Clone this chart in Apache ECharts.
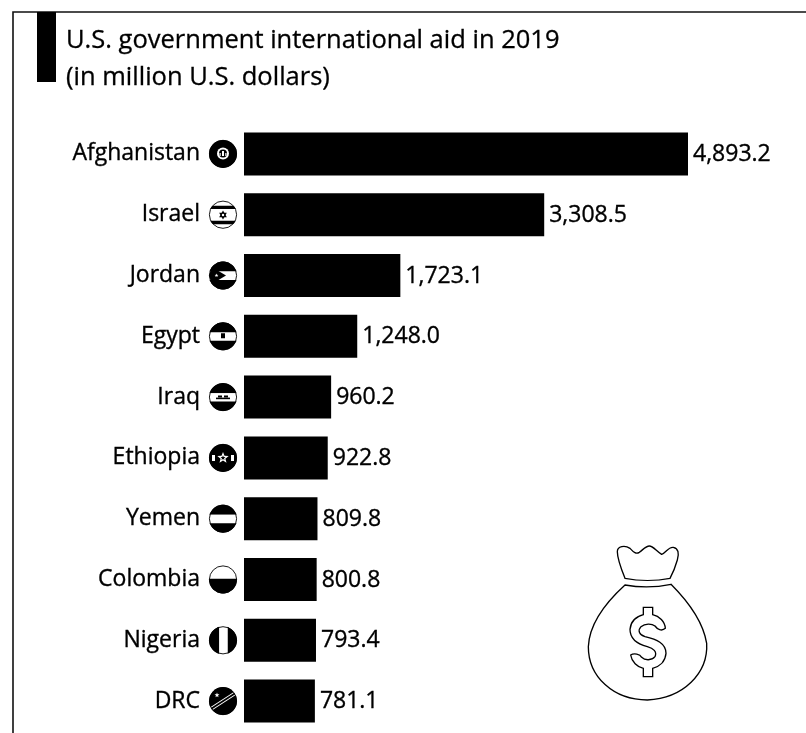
<!DOCTYPE html>
<html>
<head>
<meta charset="utf-8">
<style>html,body{margin:0;padding:0;background:#fff}#c{width:806px;height:733px}</style>
<script src="https://cdn.jsdelivr.net/npm/echarts@6/dist/echarts.min.js"></script>
</head>
<body>
<div id="c"></div>
<script>
// U.S. government international aid, top ten recipients
const countries = ['Afghanistan','Israel','Jordan','Egypt','Iraq','Ethiopia','Yemen','Colombia','Nigeria','DRC'];
const aidMillions = [4893.2,3308.5,1723.1,1248.0,960.2,922.8,809.8,800.8,793.4,781.1];
const titleLines = ['U.S. government international aid in 2019','(in million U.S. dollars)'];

const K = '#000', W = '#fff';
const FONT = '"Open Sans", "Noto Sans", sans-serif';

// Money bag outlines in a 3x drawing space, registered so the graphic component can place them by name
const bagPaths = {
  bagNeck: 'M195 175 C185 150 172 115 172 95 C172 78 195 75 210 85 C222 98 228 103 238 97 C250 88 258 78 268 78 C280 78 290 95 305 103 C318 98 325 80 340 82 C355 85 358 100 352 120 C345 145 338 160 330 175 C290 183 235 183 195 175 Z',
  bagBody: 'M195 195 C235 202 290 202 333 193 C385 245 430 310 440 370 C445 460 370 535 262 540 C160 540 85 470 85 380 C88 310 140 245 195 195 Z',
  bagDollar: 'M250 262 L278 262 L278 284 C298 288 315 305 316 325 C305 335 292 328 285 318 C275 310 255 310 243 320 C232 332 238 345 255 350 C290 358 318 370 318 400 C316 425 298 440 278 445 L278 470 L250 470 L250 445 C232 442 215 425 212 405 C222 398 240 402 245 412 C255 422 275 422 285 410 C292 395 280 385 262 380 C230 372 210 355 210 328 C212 305 228 290 250 284 Z'
};
Object.keys(bagPaths).forEach(name => {
  echarts.graphic.registerShape(name, echarts.graphic.extendPath(bagPaths[name]));
});

// Flag badges drawn inside a circle of radius r around (cx, cy)
function stripes(bands) {
  return (cx, cy, r) => bands.map(([from, to, fill]) => ({
    type: 'rect',
    shape: { x: cx - r, y: cy - r + from * 2 * r, width: 2 * r, height: (to - from) * 2 * r },
    style: { fill }
  }));
}
function star(cx, cy, s, fill) {
  const points = [];
  for (let i = 0; i < 10; i++) {
    const a = -Math.PI / 2 + i * Math.PI / 5, q = i % 2 ? s * 0.42 : s;
    points.push([cx + q * Math.cos(a), cy + q * Math.sin(a)]);
  }
  return { type: 'polygon', shape: { points }, style: { fill } };
}
function triangle(cx, cy, s, up, fill) {
  const d = up ? 1 : -1;
  return { type: 'polygon', shape: { points: [[cx, cy - d * s], [cx + s * 0.87, cy + d * s * 0.5], [cx - s * 0.87, cy + d * s * 0.5]] }, style: { fill } };
}
const threeBands = stripes([[0, 0.36, K], [0.36, 0.66, W], [0.66, 1, K]]);
const flagArt = {
  Afghanistan: (cx, cy, r) => [
    { type: 'circle', shape: { cx, cy, r }, style: { fill: K } },
    { type: 'circle', shape: { cx, cy: cy - 0.5, r: 6 }, style: { fill: W } },
    { type: 'circle', shape: { cx, cy: cy - 0.5, r: 4 }, style: { fill: K } },
    { type: 'rect', shape: { x: cx - 1, y: cy - 3, width: 2, height: 5 }, style: { fill: W } },
    { type: 'rect', shape: { x: cx - 3.5, y: cy - 1, width: 1.2, height: 3 }, style: { fill: W } },
    { type: 'rect', shape: { x: cx + 2.3, y: cy - 1, width: 1.2, height: 3 }, style: { fill: W } }
  ],
  Israel: (cx, cy, r) => [
    ...stripes([[0.18, 0.3, K], [0.72, 0.84, K]])(cx, cy, r),
    triangle(cx, cy + 0.3, 4.4, true, K),
    triangle(cx, cy + 0.3, 4.4, false, K),
    { type: 'circle', shape: { cx, cy: cy + 0.3, r: 1.2 }, style: { fill: W } }
  ],
  Jordan: (cx, cy, r) => [
    ...threeBands(cx, cy, r),
    { type: 'polygon', shape: { points: [[cx - r * 0.8, cy - r * 0.6], [cx + 3, cy], [cx - r * 0.8, cy + r * 0.6], [cx - r, cy]] }, style: { fill: K } },
    star(cx - 6.5, cy, 2, W)
  ],
  Egypt: (cx, cy, r) => [
    ...threeBands(cx, cy, r),
    { type: 'rect', shape: { x: cx - 2, y: cy - 3, width: 4, height: 5 }, style: { fill: K } }
  ],
  Iraq: (cx, cy, r) => [
    ...threeBands(cx, cy, r),
    { type: 'rect', shape: { x: cx - 7, y: cy + 0.5, width: 14, height: 1.6 }, style: { fill: K } },
    { type: 'rect', shape: { x: cx - 5, y: cy - 1.5, width: 4, height: 2 }, style: { fill: K } },
    { type: 'rect', shape: { x: cx + 1, y: cy - 1.5, width: 4, height: 2 }, style: { fill: K } }
  ],
  Ethiopia: (cx, cy, r) => [
    { type: 'circle', shape: { cx, cy, r }, style: { fill: K } },
    star(cx, cy, 6, W),
    star(cx, cy, 2.6, K),
    { type: 'rect', shape: { x: cx - 11, y: cy - 3, width: 3, height: 6 }, style: { fill: W } },
    { type: 'rect', shape: { x: cx + 8, y: cy - 3, width: 3, height: 6 }, style: { fill: W } }
  ],
  Yemen: threeBands,
  Colombia: stripes([[0.47, 1, K]]),
  Nigeria: (cx, cy, r) => [
    { type: 'rect', shape: { x: cx - r, y: cy - r, width: 2 * r * 0.36, height: 2 * r }, style: { fill: K } },
    { type: 'rect', shape: { x: cx + r * 0.34, y: cy - r, width: r, height: 2 * r }, style: { fill: K } }
  ],
  DRC: (cx, cy, r) => {
    const ex = r * 0.84, ey = r * 0.54;
    const sash = { x1: cx - ex, y1: cy + ey, x2: cx + ex, y2: cy - ey };
    return [
      { type: 'circle', shape: { cx, cy, r }, style: { fill: K } },
      { type: 'line', shape: sash, style: { stroke: W, lineWidth: 3.6 } },
      { type: 'line', shape: sash, style: { stroke: K, lineWidth: 1.8 } },
      star(cx - 6, cy - 6, 2.6, W)
    ];
  }
};

function flagBadge(name, cx, cy) {
  const r = 14;
  return {
    type: 'group',
    silent: true,
    children: [
      { type: 'circle', shape: { cx, cy, r }, style: { fill: W } },
      ...flagArt[name](cx, cy, r).map(part => clipToBadge(part, cx, cy, r)),
      { type: 'circle', shape: { cx, cy, r: r - 0.4 }, style: { fill: 'none', stroke: K, lineWidth: 0.9 } }
    ]
  };
}
function clipToBadge(part, cx, cy, r) {
  // Stripes are cut to the circle's chord; other parts already sit inside it
  if (part.type !== 'rect') return part;
  const { x, y, width, height } = part.shape;
  const points = [];
  const steps = 48;
  for (let i = 0; i <= steps; i++) {
    const a = (i / steps) * 2 * Math.PI;
    let px = cx + r * Math.cos(a), py = cy + r * Math.sin(a);
    px = Math.min(Math.max(px, x), x + width);
    py = Math.min(Math.max(py, y), y + height);
    points.push([px, py]);
  }
  return { type: 'polygon', shape: { points }, style: part.style };
}

const chart = echarts.init(document.getElementById('c'), null, { renderer: 'canvas' });
const grid = { left: 244, top: 123.5, width: 444, height: 608 };
// A hairline outline gives the small text a little more weight
const textWeight = { textBorderColor: '#000', textBorderWidth: 0.35 };

chart.setOption({
  animation: false,
  backgroundColor: W,
  grid,
  xAxis: { type: 'value', min: 0, max: aidMillions[0], show: false },
  yAxis: {
    type: 'category',
    inverse: true,
    data: countries,
    axisLine: { show: false },
    axisTick: { show: false },
    axisLabel: { margin: 44, fontFamily: FONT, fontSize: 23, color: '#000', ...textWeight }
  },
  series: [{
    type: 'bar',
    data: aidMillions,
    barWidth: 43,
    itemStyle: { color: K },
    label: {
      show: true,
      position: 'right',
      distance: 5,
      offset: [0, 0.6],
      fontFamily: FONT,
      fontSize: 23,
      color: '#000',
      ...textWeight,
      formatter: p => p.value.toLocaleString('en-US', { minimumFractionDigits: 1, maximumFractionDigits: 1 })
    }
  }]
});

const bagStroke = { fill: 'none', stroke: K, lineWidth: 4 };
const titleStyle = { fontFamily: FONT, fontSize: 25.5, fill: '#000', verticalAlign: 'middle', stroke: '#000', lineWidth: 0.3 };
chart.setOption({
  graphic: [
    // frame: top rule and left rule only
    { type: 'polyline', silent: true, shape: { points: [[13, 733], [13, 12], [806, 12]] }, style: { fill: 'none', stroke: '#111', lineWidth: 1.6 } },
    { type: 'rect', silent: true, shape: { x: 37, y: 12, width: 19, height: 70 }, style: { fill: K } },
    { type: 'text', silent: true, style: { x: 66, y: 41, text: titleLines[0], ...titleStyle } },
    { type: 'text', silent: true, style: { x: 66, y: 78, text: titleLines[1], ...titleStyle } },
    ...countries.map(name => flagBadge(name, 223, chart.convertToPixel({ yAxisIndex: 0 }, name))),
    // money bag
    {
      type: 'group', silent: true, x: 560, y: 520, scaleX: 1 / 3, scaleY: 1 / 3,
      children: [
        { type: 'bagNeck', style: bagStroke },
        { type: 'bagBody', style: bagStroke },
        { type: 'bagDollar', style: bagStroke }
      ]
    }
  ]
});
</script>
</body>
</html>
